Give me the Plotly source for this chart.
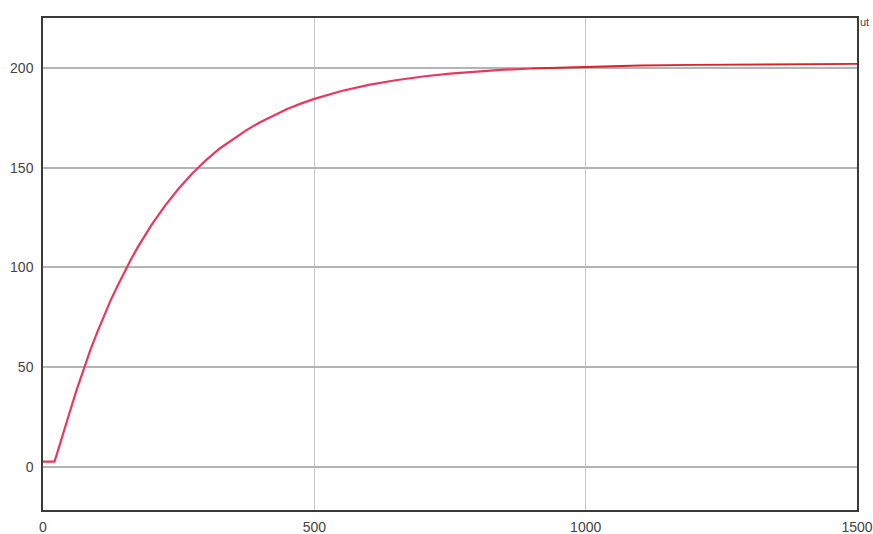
import plotly.graph_objects as go

# time values (x) and response values (y)
t_vals = [0, 21, 25, 37, 50, 62, 75, 87, 100, 112, 125, 137, 150, 162, 175, 187, 200,
          225, 250, 275, 300, 325, 350, 375, 400, 425, 450, 475, 500, 550, 600, 650,
          700, 750, 800, 850, 900, 1000, 1100, 1200, 1300, 1400, 1500]
y_vals = [2.7, 2.7, 6, 16.1, 28.2, 38.7, 49.3, 58.5, 67.6, 75.6, 83.8, 90.6, 97.8, 104, 110.3, 115.8, 121.3,
          131, 139.6, 147.1, 153.7, 159.5, 164.3, 168.8, 172.8, 176.3, 179.4, 182.1, 184.5, 188.4, 191.5, 193.8,
          195.7, 197.1, 198.2, 199.1, 199.7, 200.6, 201.2, 201.5, 201.7, 201.9, 202]

# index where the trace turns from pink to red in the picture
split_at = t_vals.index(900)

x_ticks = [0, 500, 1000, 1500]
y_ticks = [0, 50, 100, 150, 200]

fig = go.Figure()
fig.add_trace(go.Scatter(x=t_vals[:split_at + 1], y=y_vals[:split_at + 1], mode="lines",
                         line=dict(color="#e8385f", width=2.2),
                         showlegend=False, hoverinfo="skip"))
fig.add_trace(go.Scatter(x=t_vals[split_at:], y=y_vals[split_at:], mode="lines",
                         line=dict(color="#d8222e", width=1.8),
                         showlegend=False, hoverinfo="skip"))

fig.update_layout(
    width=873, height=534,
    margin=dict(l=43, r=16, t=18, b=24),
    paper_bgcolor="white", plot_bgcolor="white",
    font=dict(family="Liberation Sans, Arial, sans-serif", size=14, color="#444444"),
    xaxis=dict(range=[0, 1500], tickvals=x_ticks, showgrid=True, gridcolor="#c8c8c8",
               gridwidth=1, zeroline=False, showline=True, linecolor="#3a3a3a",
               linewidth=1.5, mirror=True, ticks="", ticklabelstandoff=3,
               automargin=False),
    yaxis=dict(range=[-21.5, 225], tickvals=y_ticks, showgrid=True, gridcolor="#b4b4b4",
               gridwidth=1.5, zeroline=False, showline=True, linecolor="#3a3a3a",
               linewidth=1.5, mirror=True, ticks="", ticklabelstandoff=5,
               automargin=False),
)
fig.add_annotation(text="ut", x=1.0, y=1.0, xref="paper", yref="paper",
                   xanchor="left", yanchor="bottom", showarrow=False,
                   xshift=1, yshift=-12, font=dict(size=11, color="#444444"))

fig.write_html("out.html", config={"displayModeBar": False})

# remove default page margin so the figure fills the window exactly
with open("out.html", "r", encoding="utf-8") as f:
    html = f.read()
html = html.replace("<head>", "<head><style>html,body{margin:0;padding:0;overflow:hidden}</style>", 1)
with open("out.html", "w", encoding="utf-8") as f:
    f.write(html)
